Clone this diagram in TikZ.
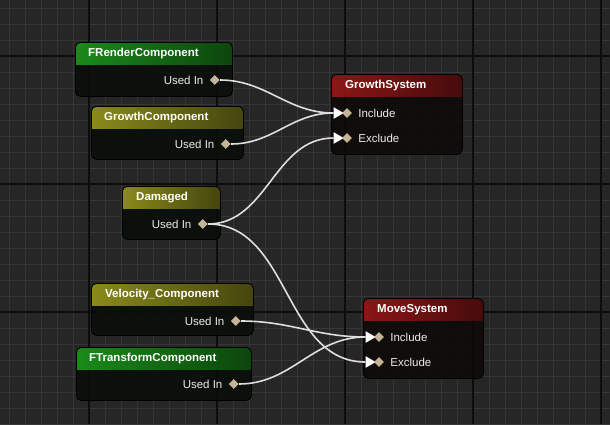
\documentclass[tikz,border=0pt]{standalone}
\usepackage{fontspec}
\setmainfont{Liberation Sans}
\usetikzlibrary{positioning, shapes.geometric}

\definecolor{gridbg}{RGB}{38,38,38}
\definecolor{gridminor}{RGB}{54,54,54}
\definecolor{gridmajor}{RGB}{12,12,12}
\definecolor{compbody}{RGB}{9,13,9}
\definecolor{sysbody}{RGB}{15,9,9}
\definecolor{greenhead}{RGB}{26,138,26}
\definecolor{olivehead}{RGB}{138,138,28}
\definecolor{redhead}{RGB}{140,22,22}
\definecolor{pintan}{RGB}{196,180,152}
\definecolor{wirewhite}{RGB}{222,222,222}

\tikzset{
  graphnode/.style 2 args={draw=black, line width=0.8pt, rounded corners=5pt,
    anchor=north west, inner sep=0pt, fill=#2, fill opacity=0.88,
    path picture={\shade[sharp corners, fill opacity=1, left color=#1, right color=#1!50!black]
      (path picture bounding box.north west) rectangle ([yshift=-22pt]path picture bounding box.north east);}},
  title/.style={anchor=west, inner sep=0pt, text=white, font=\bfseries\fontsize{11.5}{13}\selectfont},
  pinlabel/.style={inner sep=0pt, text=black!8, font=\fontsize{11.5}{13}\selectfont},
  outpin/.style={diamond, fill=pintan, inner sep=0pt, minimum size=10pt},
  inarrow/.style={isosceles triangle, isosceles triangle apex angle=60, fill=white,
    inner sep=0pt, minimum height=10pt, minimum width=10pt},
  wire/.style={draw=wirewhite, line width=1.6pt},
}

\begin{document}
\begin{tikzpicture}[x=1pt, y=-1pt]
	% Background grid:
	\useasboundingbox (0,0) rectangle (610,424);
	\fill[gridbg] (0,0) rectangle (610,424);
	\foreach \x in {9,25,...,601} \draw[gridminor, line width=1pt] (\x,0) -- (\x,424);
	\foreach \y in {8,24,...,424} \draw[gridminor, line width=1pt] (0,\y) -- (610,\y);
	\foreach \x in {89,217,345,473,601} \draw[gridmajor, line width=1.6pt] (\x,0) -- (\x,424);
	\foreach \y in {56,184,312} \draw[gridmajor, line width=1.6pt] (0,\y) -- (610,\y);

	% Component nodes:
	\node[graphnode={greenhead}{compbody}, minimum width=157pt, minimum height=54pt] (frender) at (75,42) {};
	\node[title] (frender-title) at ([xshift=13pt, yshift=-11.5pt]frender.north west) {FRenderComponent};
	\node[outpin] (frender-out) at ([xshift=-18pt, yshift=-38pt]frender.north east) {};
	\node[pinlabel, left=6pt of frender-out] (frender-lbl) {Used In};

	\node[graphnode={olivehead}{compbody}, minimum width=152pt, minimum height=53pt] (growthc) at (91,106) {};
	\node[title] (growthc-title) at ([xshift=13pt, yshift=-11.5pt]growthc.north west) {GrowthComponent};
	\node[outpin] (growthc-out) at ([xshift=-18pt, yshift=-38pt]growthc.north east) {};
	\node[pinlabel, left=6pt of growthc-out] (growthc-lbl) {Used In};

	\node[graphnode={olivehead}{compbody}, minimum width=98pt, minimum height=53pt] (damaged) at (122,186) {};
	\node[title] (damaged-title) at ([xshift=14pt, yshift=-11.5pt]damaged.north west) {Damaged};
	\node[outpin] (damaged-out) at ([xshift=-18pt, yshift=-38pt]damaged.north east) {};
	\node[pinlabel, left=6pt of damaged-out] (damaged-lbl) {Used In};

	\node[graphnode={olivehead}{compbody}, minimum width=162pt, minimum height=52pt] (velocity) at (91,283) {};
	\node[title] (velocity-title) at ([xshift=14pt, yshift=-11.5pt]velocity.north west) {Velocity\_Component};
	\node[outpin] (velocity-out) at ([xshift=-18pt, yshift=-38pt]velocity.north east) {};
	\node[pinlabel, left=6pt of velocity-out] (velocity-lbl) {Used In};

	\node[graphnode={greenhead}{compbody}, minimum width=175pt, minimum height=53pt] (ftransform) at (76,347) {};
	\node[title] (ftransform-title) at ([xshift=13pt, yshift=-11.5pt]ftransform.north west) {FTransformComponent};
	\node[outpin] (ftransform-out) at ([xshift=-18pt, yshift=-37pt]ftransform.north east) {};
	\node[pinlabel, left=6pt of ftransform-out] (ftransform-lbl) {Used In};

	% System nodes:
	\node[graphnode={redhead}{sysbody}, minimum width=131pt, minimum height=80pt] (growthsys) at (331,74) {};
	\node[title] (growthsys-title) at ([xshift=14pt, yshift=-11.5pt]growthsys.north west) {GrowthSystem};
	\node[inarrow] (growthsys-inc-tip) at ([xshift=6pt, yshift=-39pt]growthsys.north west) {};
	\node[outpin] (growthsys-inc) at ([xshift=16pt, yshift=-39pt]growthsys.north west) {};
	\node[pinlabel, right=6pt of growthsys-inc] (growthsys-inc-lbl) {Include};
	\node[inarrow] (growthsys-exc-tip) at ([xshift=6pt, yshift=-64pt]growthsys.north west) {};
	\node[outpin] (growthsys-exc) at ([xshift=16pt, yshift=-64pt]growthsys.north west) {};
	\node[pinlabel, right=6pt of growthsys-exc] (growthsys-exc-lbl) {Exclude};

	\node[graphnode={redhead}{sysbody}, minimum width=120pt, minimum height=80pt] (movesys) at (363,298) {};
	\node[title] (movesys-title) at ([xshift=14pt, yshift=-11.5pt]movesys.north west) {MoveSystem};
	\node[inarrow] (movesys-inc-tip) at ([xshift=6pt, yshift=-39pt]movesys.north west) {};
	\node[outpin] (movesys-inc) at ([xshift=16pt, yshift=-39pt]movesys.north west) {};
	\node[pinlabel, right=6pt of movesys-inc] (movesys-inc-lbl) {Include};
	\node[inarrow] (movesys-exc-tip) at ([xshift=6pt, yshift=-64pt]movesys.north west) {};
	\node[outpin] (movesys-exc) at ([xshift=16pt, yshift=-64pt]movesys.north west) {};
	\node[pinlabel, right=6pt of movesys-exc] (movesys-exc-lbl) {Exclude};

	% Wires:
	\draw[wire] (frender-out.east) to[out=0, in=180] (growthsys-inc-tip.west);
	\draw[wire] (growthc-out.east) to[out=0, in=180] (growthsys-inc-tip.west);
	\draw[wire] (damaged-out.east) to[out=0, in=180] (growthsys-exc-tip.west);
	\draw[wire] (damaged-out.east) to[out=0, in=180] (movesys-exc-tip.west);
	\draw[wire] (velocity-out.east) to[out=0, in=180] (movesys-inc-tip.west);
	\draw[wire] (ftransform-out.east) to[out=0, in=180] (movesys-inc-tip.west);
\end{tikzpicture}
\end{document}
